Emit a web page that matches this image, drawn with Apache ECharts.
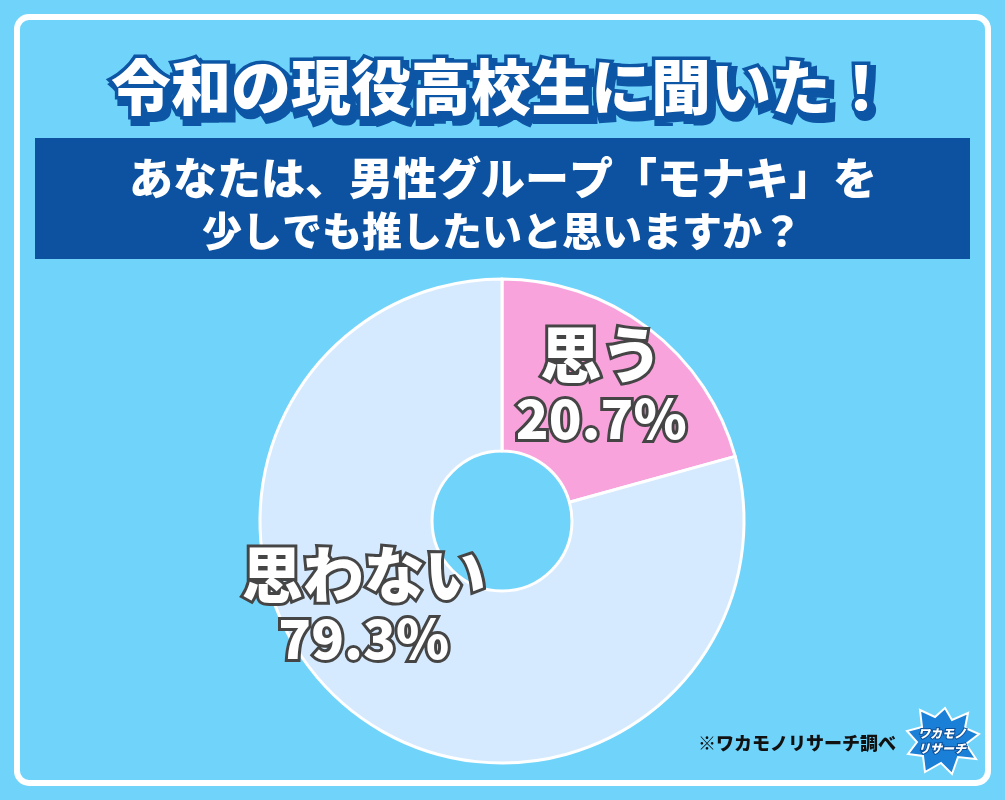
<!DOCTYPE html>
<html><head><meta charset="utf-8">
<script src="https://cdn.jsdelivr.net/npm/echarts@6/dist/echarts.min.js"></script>
<style>html,body{margin:0;padding:0;background:#70d4fa;}#c{width:1005px;height:800px;}</style>
</head><body><div id="c"></div>
<script>
const categories = ['思う', '思わない'];
const values = [20.7, 79.3];
const sliceColors = ['#f9a3dd', '#d5eafe'];
const titleText = '令和の現役高校生に聞いた！';
const questionLines = ['あなたは、男性グループ「モナキ」を', '少しでも推したいと思いますか？'];
const sourceText = '※ワカモノリサーチ調べ';

const FONT = '"Noto Sans CJK JP", sans-serif';
const chart = echarts.init(document.getElementById('c'), null, {renderer: 'canvas'});
const labelOffsets = [[3, -9], [-42, -42]];

chart.setOption({
  backgroundColor: '#70d4fa',
  animation: false,
  graphic: [
    {type: 'rect', shape: {x: 17, y: 17, width: 971, height: 766, r: 12}, style: {fill: 'none', stroke: '#ffffff', lineWidth: 6}, z: 1},
    {type: 'text', x: 505, y: 92, style: {text: titleText, font: '900 60px ' + FONT, fill: '#0d56a6', stroke: '#0d56a6', lineWidth: 10, textAlign: 'center', textVerticalAlign: 'middle'}, z: 2},
    {type: 'text', x: 501, y: 87, style: {text: titleText, font: '900 60px ' + FONT, fill: '#ffffff', stroke: '#0d56a6', lineWidth: 7, textAlign: 'center', textVerticalAlign: 'middle'}, z: 3},
    {type: 'rect', shape: {x: 35, y: 138, width: 935, height: 121}, style: {fill: '#0c52a1'}, z: 2},
    {type: 'text', x: 503, y: 178, style: {text: questionLines[0], font: '900 44px ' + FONT, fill: '#ffffff', textAlign: 'center', textVerticalAlign: 'middle'}, z: 3},
    {type: 'text', x: 502, y: 231, style: {text: questionLines[1], font: '900 40px ' + FONT, fill: '#ffffff', textAlign: 'center', textVerticalAlign: 'middle'}, z: 3},
    {type: 'text', x: 797, y: 743, style: {text: sourceText, font: '900 18px ' + FONT, fill: '#111111', textAlign: 'center', textVerticalAlign: 'middle'}, z: 3},
    {type: 'polygon', shape: {points: [[945,708],[952,720],[968,713],[965,728],[979,734],[966,744],[976,759],[958,757],[952,774],[941,763],[925,772],[923,756],[908,754],[917,742],[907,731],[922,727],[920,710],[935,717]]}, style: {fill: '#1a7fd6', stroke: '#ffffff', lineWidth: 2}, z: 3},
    {type: 'text', x: 942, y: 733, style: {text: 'ワカモノ', font: 'italic 900 12px ' + FONT, fill: '#ffffff', stroke: '#0c4f9a', lineWidth: 2, textAlign: 'center', textVerticalAlign: 'middle'}, z: 4},
    {type: 'text', x: 942, y: 748, style: {text: 'リサーチ', font: 'italic 900 12px ' + FONT, fill: '#ffffff', stroke: '#0c4f9a', lineWidth: 2, textAlign: 'center', textVerticalAlign: 'middle'}, z: 4}
  ],
  series: [{
    type: 'pie',
    center: [502, 521],
    radius: [70, 242],
    startAngle: 90,
    clockwise: true,
    silent: true,
    itemStyle: {borderColor: '#ffffff', borderWidth: 3},
    label: {
      show: true,
      position: 'inside',
      formatter: p => '{n|' + p.name + '}\n{v|' + p.value.toFixed(1) + '%}',
      rich: {
        n: {fontFamily: FONT, fontWeight: 900, fontSize: 61, lineHeight: 66, color: '#ffffff', textBorderColor: '#454545', textBorderWidth: 6},
        v: {fontFamily: FONT, fontWeight: 900, fontSize: 54, lineHeight: 62, color: '#ffffff', textBorderColor: '#454545', textBorderWidth: 6}
      },
      align: 'center'
    },
    labelLine: {show: false},
    data: categories.map((n, i) => ({
      name: n, value: values[i],
      itemStyle: {color: sliceColors[i]},
      label: {offset: labelOffsets[i]}
    }))
  }]
});
</script></body></html>
